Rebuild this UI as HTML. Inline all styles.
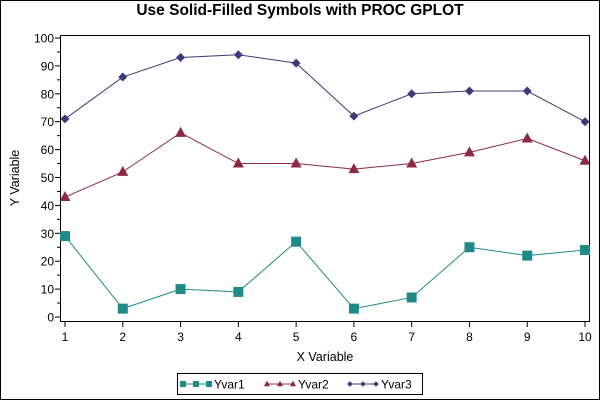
<!DOCTYPE html>
<html><head><style>body{margin:0;background:#fff}svg{display:block}text{font-family:"Liberation Sans",Arial,sans-serif}</style></head>
<body>
<svg width="600" height="400" xmlns="http://www.w3.org/2000/svg">
<rect x="0.5" y="0.5" width="599" height="399" fill="#fff" stroke="#000"/>
<text x="300" y="15" font-size="15.5" font-weight="bold" text-anchor="middle">Use Solid-Filled Symbols with PROC GPLOT</text>
<rect x="60.5" y="35.5" width="529" height="286" fill="none" stroke="#000"/>
<g id="ax" font-size="12" fill="#000"></g>
<text x="325" y="361" font-size="12.5" text-anchor="middle">X Variable</text>
<text transform="translate(19,178) rotate(-90)" font-size="12.5" text-anchor="middle">Y Variable</text>
<rect x="177.5" y="373.5" width="245" height="21" fill="none" stroke="#000"/>
<g id="plot"></g>
</svg>
<script>
const ns="http://www.w3.org/2000/svg";
const X=i=>65+(i-1)*57.78, Y=v=>317-v*2.79;
const ax=document.getElementById('ax'), pl=document.getElementById('plot');
function el(p,t,a,txt){const e=document.createElementNS(ns,t);for(const k in a)e.setAttribute(k,a[k]);if(txt!==undefined)e.textContent=txt;p.appendChild(e);return e;}
for(let v=0;v<=100;v+=5){const y=Y(v);el(ax,'line',{x1:v%10?57:55,x2:60,y1:y,y2:y,stroke:'#000'});if(v%10==0)el(ax,'text',{x:54,y:y+4.5,'text-anchor':'end'},v);}
for(let i=1;i<=10;i++){const x=X(i);el(ax,'line',{x1:x,x2:x,y1:322,y2:327,stroke:'#000'});el(ax,'text',{x:x,y:341,'text-anchor':'middle'},i);}
const S=[{d:[29,3,10,9,27,3,7,25,22,24],c:'#1f8a86',m:'sq'},{d:[43,52,66,55,55,53,55,59,64,56],c:'#8c2a44',m:'tri'},{d:[71,86,93,94,91,72,80,81,81,70],c:'#3b3b7a',m:'dia'}];
function mark(x,y,m,c,s){if(m=='sq')el(pl,'rect',{x:x-s,y:y-s,width:2*s,height:2*s,fill:c});else if(m=='tri')el(pl,'polygon',{points:`${x},${y-s*1.2} ${x-s*1.1},${y+s*0.8} ${x+s*1.1},${y+s*0.8}`,fill:c});else el(pl,'polygon',{points:`${x},${y-s} ${x+s},${y} ${x},${y+s} ${x-s},${y}`,fill:c});}
S.forEach(s=>{el(pl,'polyline',{points:s.d.map((v,i)=>X(i+1)+','+Y(v)).join(' '),fill:'none',stroke:s.c,'stroke-width':1});s.d.forEach((v,i)=>mark(X(i+1),Y(v),s.m,s.c,s.m=='sq'?5:s.m=='tri'?5:4.5));});
const lx=[183,267,350],names=['Yvar1','Yvar2','Yvar3'];
S.forEach((s,k)=>{const x0=lx[k],y=384;el(pl,'line',{x1:x0,x2:x0+26,y1:y,y2:y,stroke:s.c});[0,13,26].forEach(d=>mark(x0+d,y,s.m,s.c,s.m=='sq'?3:2.8));el(pl,'text',{x:x0+31,y:y+4.5,'font-size':12},names[k]);});
</script>
</body></html>
